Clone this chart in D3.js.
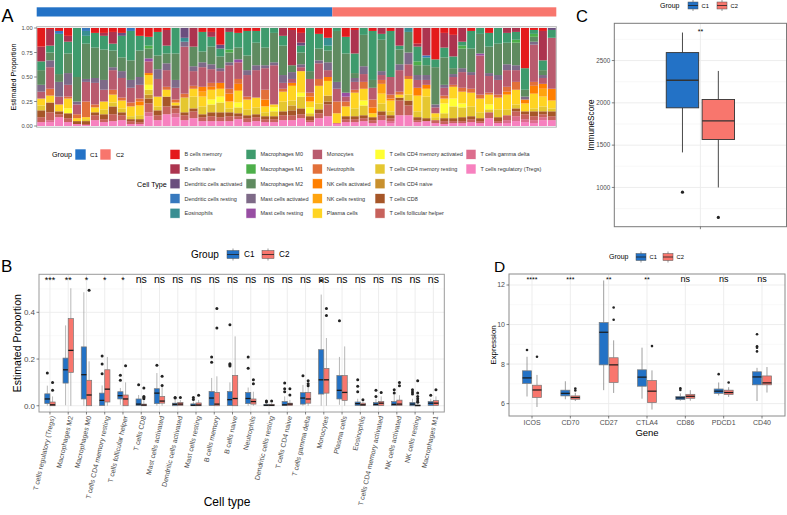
<!DOCTYPE html>
<html>
<head>
<meta charset="utf-8">
<script src="https://cdn.jsdelivr.net/npm/d3@7"></script>
<style>
  body { margin: 0; background: #fff; }
  svg { display: block; font-family: "Liberation Sans", Arial, sans-serif; }
</style>
</head>
<body>
<svg id="fig" width="787" height="515"></svg>
<script>
// ---------- shared ----------
const groups = ["C1", "C2"];
const groupColors = ["#2372C6", "#F8766D"];
const groupSizes = [33, 25];

// ---------- panel A: CIBERSORT fractions per sample (percent) ----------
const cellTypes = ["B cells memory", "B cells naive", "Dendritic cells activated", "Dendritic cells resting",
  "Eosinophils", "Macrophages M0", "Macrophages M1", "Macrophages M2", "Mast cells activated",
  "Mast cells resting", "Monocytes", "Neutrophils", "NK cells activated", "NK cells resting",
  "Plasma cells", "T cells CD4 memory activated", "T cells CD4 memory resting", "T cells CD4 naive",
  "T cells CD8", "T cells follicular helper", "T cells gamma delta", "T cells regulatory (Tregs)"];
const cellColors = ["#E41A1C", "#AC344F", "#6A4E7E", "#3779BE", "#388E92", "#3E9B6D", "#4DAF4A", "#5F8B60",
  "#7E6A88", "#984EA3", "#B95B6E", "#E2703A", "#FF7F00", "#FFA40F", "#FFD422", "#FFFF33", "#E5C730",
  "#C8902E", "#A65628", "#C7625C", "#DC6D8D", "#F781BF"];

const pBMemory = [19,1,3,8,0,0,5,5,4,5, 0,8,9,4,2,0,0,0,4,4, 17,0,5,3,3,0,0,0,2,5, 0,6,10,0,9,2,0,3,0,3, 0,0,16,0,32,5,7,0,3,0, 5,0,0,0,41,2,3,0];
const pBNaive = [15,17,0,6,0,0,0,3,12,0, 0,0,0,0,16,0,0,19,0,5, 0,4,0,0,0,0,0,8,36,10, 0,0,0,0,0,24,0,0,6,0, 18,0,3,28,0,15,22,14,0,0, 0,0,5,4,0,0,30,0];
const pDCAct = [0,0,0,0,0,0,0,0,0,3, 0,0,0,0,0,0,10,0,0,0, 4,0,0,0,0,0,0,0,0,3, 0,0,0,0,0,0,0,0,0,0, 0,0,0,0,0,0,0,0,0,0, 0,0,0,0,0,0,0,2];
const pDCRest = [0,0,3,0,0,3,0,0,0,0, 3,0,0,0,0,0,0,0,0,0, 0,0,0,0,0,0,0,0,0,0, 0,0,0,0,0,0,0,0,0,0, 0,0,0,2,0,0,0,0,0,0, 0,0,0,0,0,0,0,0];
const pEos = [0,0,0,0,0,5,0,0,0,0, 0,0,0,0,0,0,4,0,0,0, 0,0,0,0,0,0,0,0,0,0, 0,0,8,0,0,0,0,0,0,0, 0,4,0,0,0,0,0,0,0,0, 0,0,0,0,0,0,0,0];
const pM0 = [9,7,41,12,50,8,15,14,7,22, 30,15,9,24,8,26,0,0,20,10, 8,18,15,25,12,20,5,10,0,7, 44,15,5,3,17,20,7,50,6,47, 4,0,15,8,8,10,12,4,18,6, 14,16,10,8,22,4,10,8];
const pM1 = [0,0,0,0,0,0,0,0,0,0, 0,0,3,0,0,0,0,0,0,0, 0,3,0,0,0,0,0,0,0,0, 0,0,0,0,0,0,0,0,0,0, 0,0,4,0,0,0,0,3,0,0, 0,0,0,3,0,3,0,0];
const pM2 = [15,8,8,20,25,36,31,31,17,14, 20,27,10,14,10,27,0,20,11,18, 12,10,12,15,23,18,30,30,7,12, 8,12,12,52,40,5,32,8,32,0, 15,21,10,10,38,28,6,20,24,20, 27,32,22,23,7,5,5,0];
const pMastAct = [7,7,15,12,3,3,5,10,3,7, 8,8,0,10,7,8,5,5,5,5, 3,3,0,5,5,3,3,8,7,3, 0,3,8,7,0,4,8,0,4,0, 6,12,5,5,3,3,3,4,3,0, 3,5,6,5,3,3,3,0];
const pMastRest = [0,0,0,0,0,0,0,0,0,0, 0,0,3,0,0,0,0,0,0,0, 0,0,3,0,0,0,0,0,0,0, 0,0,0,0,4,0,0,0,0,0, 0,0,0,0,0,0,0,0,0,2, 0,0,0,0,0,0,0,0];
const pMono = [7,22,8,12,10,20,22,12,20,20, 15,14,12,18,17,12,48,15,20,14, 12,24,17,22,28,22,40,6,4,4, 14,16,7,13,5,8,8,12,5,18, 22,12,8,5,6,8,8,16,14,40, 17,15,17,12,0,38,6,52];
const pNeutro = [0,7,0,2,4,16,3,0,5,3, 4,3,0,0,3,3,4,3,0,4, 0,5,5,3,0,10,0,3,0,0, 4,7,0,12,5,3,7,8,4,4, 3,3,0,0,0,3,2,4,4,4, 2,3,5,8,0,4,0,0];
const pNKAct = [0,0,0,0,0,0,0,0,0,0, 0,4,2,0,0,0,0,0,5,3, 6,8,7,0,0,7,0,0,3,0, 5,0,4,0,0,0,0,6,0,2, 0,0,8,4,0,0,0,0,0,0, 0,0,3,0,4,8,5,12];
const pNKRest = [0,0,0,0,0,0,0,0,0,0, 0,0,0,0,0,0,0,0,5,0, 0,0,0,0,0,0,0,0,0,0, 0,0,0,0,0,0,0,0,10,0, 0,0,0,0,0,0,0,0,0,0, 0,0,0,0,0,0,8,0];
const pPlasma = [7,7,7,10,3,2,5,8,8,8, 10,10,10,10,7,3,0,8,10,10, 8,7,12,10,10,6,3,10,15,22, 6,18,15,10,10,16,12,4,10,11, 3,16,16,8,4,5,12,12,14,14, 10,12,15,15,8,15,10,8];
const pCD4Act = [0,0,0,5,0,0,0,0,0,0, 0,0,5,0,0,0,0,0,0,5, 6,0,5,0,0,0,4,0,0,4, 6,0,0,0,0,0,5,0,0,0, 0,0,0,0,0,10,8,4,0,0, 5,0,0,0,0,0,0,0];
const pCD4Rest = [5,0,0,0,0,2,0,5,4,4, 3,4,5,4,0,0,15,12,8,8, 10,4,6,6,7,4,5,10,5,12, 3,6,0,0,0,8,10,0,8,4, 0,6,6,22,3,5,12,10,10,6, 3,8,6,4,0,3,5,3];
const pCD4Naive = [0,0,0,0,0,0,0,0,0,0, 0,0,4,0,0,0,0,0,0,0, 0,0,0,0,0,0,0,0,5,0, 0,0,6,0,0,0,0,0,0,0, 0,0,0,0,0,0,0,0,0,0, 0,0,0,0,0,0,0,0];
const pCD8 = [7,10,3,5,3,3,3,5,8,3, 2,3,5,5,10,3,3,3,3,4, 5,4,3,3,3,3,3,4,5,6, 4,4,3,0,3,3,3,3,4,3, 3,5,3,3,0,3,3,4,3,3, 0,4,0,3,3,5,3,5];
const pTfh = [5,8,3,4,0,1,5,3,7,5, 3,2,9,5,8,5,5,7,4,5, 4,5,3,4,4,3,3,5,5,4, 2,5,12,0,3,3,3,3,5,3, 15,10,2,0,3,3,2,2,3,2, 6,2,5,5,5,4,3,4];
const pGammaDelta = [0,2,0,0,0,0,0,0,0,0, 0,0,4,0,0,4,0,0,0,0, 0,0,0,0,0,0,0,0,0,0, 0,0,0,1,0,0,0,0,0,2, 0,0,0,0,0,0,0,0,0,0, 0,0,3,5,3,3,3,0];
const pTregs = [4,4,9,4,2,1,6,4,5,6, 2,2,10,6,12,9,6,8,5,5, 5,5,7,4,5,4,4,6,6,8, 4,8,10,2,4,4,5,3,6,3, 11,11,4,5,3,2,3,3,4,3, 8,3,3,5,4,3,6,6];
const proportions = [pBMemory, pBNaive, pDCAct, pDCRest, pEos, pM0, pM1, pM2, pMastAct, pMastRest, pMono,
  pNeutro, pNKAct, pNKRest, pPlasma, pCD4Act, pCD4Rest, pCD4Naive, pCD8, pTfh, pGammaDelta, pTregs];
const propTicks = [0, 0.25, 0.5, 0.75, 1];

// ---------- panel B: per cell type boxplots [low whisker, Q1, median, Q3, high whisker] ----------
const cellTypesB = ["T cells regulatory (Tregs)", "Macrophages M2", "Macrophages M0", "T cells CD4 memory resting",
  "T cells follicular helper", "T cells CD8", "Mast cells activated", "Dendritic cells activated",
  "Mast cells resting", "B cells memory", "B cells naive", "Neutrophils", "Dendritic cells resting",
  "T cells CD4 naive", "T cells gamma delta", "Monocytes", "Plasma cells", "Eosinophils",
  "T cells CD4 memory activated", "NK cells activated", "NK cells resting", "Macrophages M1"];
const boxB_C1 = [[0,0.009,0.029,0.051,0.086],[0.002,0.097,0.154,0.204,0.344],[0,0.029,0.133,0.252,0.486],
  [0,0.001,0.023,0.054,0.087],[0.004,0.029,0.043,0.06,0.076],[0,0.001,0.007,0.029,0.046],
  [0,0.009,0.054,0.073,0.14],[0,0,0.006,0.011,0.025],[0,0,0.002,0.008,0.018],[0,0.001,0.033,0.061,0.119],
  [0,0.001,0.026,0.061,0.1],[0,0.009,0.031,0.057,0.078],[0,0,0.002,0.006,0.01],[0,0.001,0.004,0.018,0.04],
  [0,0.007,0.033,0.056,0.089],[0,0.05,0.111,0.24,0.476],[0.004,0.029,0.066,0.129,0.209],[0,0.001,0.009,0.016,0.03],
  [0,0.001,0.006,0.014,0.03],[0,0.001,0.006,0.018,0.047],[0,0,0.007,0.014,0.03],[0,0.001,0.011,0.018,0.03]];
const outB_C1 = [[0.14],[],[],[0.213,0.179,0.137],[0.131,0.109],[0.09],[0.173],[0.035,0.033],[0.035,0.027],
  [0.209,0.186],[0.347,0.18,0.175,0.17],[0.209,0.16],[0.02,0.016],[0.097,0.073,0.06],[0.128],[0.536],[0.364],
  [0.111,0.083,0.06],[0.066,0.04],[0.069,0.055],[0.069,0.059,0.05],[0.045]];
const boxB_C2 = [[0,0,0.004,0.016,0.04],[0,0.143,0.237,0.373,0.503],[0,0,0.046,0.109,0.19],
  [0,0.016,0.071,0.154,0.209],[0,0,0.029,0.046,0.1],[0,0,0.003,0.007,0.02],
  [0,0.011,0.02,0.04,0.083],[0,0.001,0.007,0.014,0.025],[0,0,0.003,0.012,0.025],[0,0,0.007,0.057,0.126],
  [0,0,0.031,0.13,0.297],[0,0.007,0.018,0.029,0.06],[0,0,0.002,0.006,0.012],[0,0.001,0.007,0.011,0.025],
  [0,0.011,0.029,0.057,0.08],[0,0.054,0.111,0.16,0.29],[0,0.023,0.057,0.129,0.254],[0,0.001,0.004,0.011,0.018],
  [0,0.001,0.011,0.018,0.04],[0,0.001,0.007,0.024,0.045],[0,0,0.001,0.003,0.006],[0,0.001,0.011,0.022,0.04]];
const outB_C2 = [[0.066,0.1],[],[0.494],[],[0.171],[0.076,0.04,0.035,0.03],[0.126,0.087],[0.035],[0.045],
  [0.416,0.333],[],[0.111,0.094],[0.02],[0.073,0.046],[0.107,0.094,0.086],[0.416,0.386],[],[0.026],[0.057],
  [0.1,0.086],[0.107,0.055,0.04,0.03,0.02,0.015],[0.069]];
const sigB = ["***","**","*","*","*","ns","ns","ns","ns","ns","ns","ns","ns","ns","ns","ns","ns","ns","ns","ns","ns","ns"];
const ticksB = [0, 0.2, 0.4];

// ---------- panel C: ImmuneScore ----------
const immuneC1 = [1414, 1941, 2267, 2594, 2831];
const immuneOutC1 = [944];
const immuneC2 = [1000, 1567, 1787, 2040, 2377];
const immuneOutC2 = [645];
const sigC = "**";
const ticksC = [1000, 1500, 2000, 2500];

// ---------- panel D: checkpoint gene expression ----------
const genes = ["ICOS", "CD70", "CD27", "CTLA4", "CD86", "PDCD1", "CD40"];
const boxD_C1 = [[6.36,7.02,7.30,7.66,8.37],[6.22,6.39,6.52,6.68,7.13],[6.68,7.96,9.61,10.10,12.23],
  [6.25,6.88,7.34,7.71,8.83],[6.15,6.20,6.29,6.36,6.52],[6.41,6.52,6.63,6.74,7.07],[6.13,6.95,7.35,7.61,7.81]];
const outD_C1 = [[8.71],[],[],[],[6.78,6.69],[7.49],[9.51,8.90,8.83,8.64]];
const boxD_C2 = [[5.83,6.31,6.69,6.93,7.45],[6.13,6.22,6.31,6.39,6.55],[6.54,7.07,7.96,8.32,9.20],
  [5.70,6.05,6.63,7.17,7.68],[6.15,6.27,6.37,6.47,6.68],[6.34,6.46,6.56,6.68,6.83],[6.56,6.95,7.05,7.40,7.85]];
const outD_C2 = [[8.37],[6.76,6.66],[10.86,10.24],[8.91],[],[7.07],[]];
const sigD = ["****","***","**","**","ns","ns","ns"];
const ticksD = [6, 8, 10, 12];

// ================================================================
const svg = d3.select("#fig");
const tickCol = "#4D4D4D";
const gridMajor = "#EBEBEB";
const gridMinor = "#F4F4F4";

// expand a numeric extent by 5% each side, like ggplot
function expanded(values) {
  const [lo, hi] = d3.extent(values);
  const pad = (hi - lo) * 0.05;
  return [lo - pad, hi + pad];
}

function panelLabel(x, y, text, size) {
  svg.append("text").attr("x", x).attr("y", y).attr("font-size", size).text(text);
}

function yAxis(g, scale, ticks, x0, fmt, size) {
  g.selectAll(".ytick").data(ticks).join("g").attr("class", "ytick")
    .each(function(t) {
      const s = d3.select(this);
      s.append("line").attr("x1", x0 - 2.5).attr("x2", x0).attr("y1", scale(t)).attr("y2", scale(t))
        .attr("stroke", "#333").attr("stroke-width", 0.6);
      s.append("text").attr("x", x0 - 4).attr("y", scale(t)).attr("dy", "0.35em")
        .attr("text-anchor", "end").attr("font-size", size).attr("fill", tickCol).text(fmt(t));
    });
}

function grid(g, yScale, major, minor, xs, box) {
  g.selectAll(".gminor").data(minor.filter(v => yScale(v) > box.y0 && yScale(v) < box.y1)).join("line")
    .attr("x1", box.x0).attr("x2", box.x1).attr("y1", d => yScale(d)).attr("y2", d => yScale(d))
    .attr("stroke", gridMinor).attr("stroke-width", 0.6);
  g.selectAll(".gmajor").data(major).join("line")
    .attr("x1", box.x0).attr("x2", box.x1).attr("y1", d => yScale(d)).attr("y2", d => yScale(d))
    .attr("stroke", gridMajor).attr("stroke-width", 0.9);
  g.selectAll(".gvert").data(xs).join("line")
    .attr("x1", d => d).attr("x2", d => d).attr("y1", box.y0).attr("y2", box.y1)
    .attr("stroke", gridMajor).attr("stroke-width", 0.9);
}

function frame(g, box, color) {
  g.append("rect").attr("x", box.x0).attr("y", box.y0)
    .attr("width", box.x1 - box.x0).attr("height", box.y1 - box.y0)
    .attr("fill", "none").attr("stroke", color).attr("stroke-width", 1);
}

// boxes: [{cx, stats, out, color}]
function drawBoxes(g, boxes, yScale, opt) {
  const b = g.selectAll(".box").data(boxes).join("g").attr("class", "box");
  b.append("line").attr("x1", d => d.cx).attr("x2", d => d.cx)
    .attr("y1", d => yScale(d.stats[4])).attr("y2", d => yScale(d.stats[3]))
    .attr("stroke", opt.whisker).attr("stroke-width", opt.lw);
  b.append("line").attr("x1", d => d.cx).attr("x2", d => d.cx)
    .attr("y1", d => yScale(d.stats[1])).attr("y2", d => yScale(d.stats[0]))
    .attr("stroke", opt.whisker).attr("stroke-width", opt.lw);
  b.append("rect").attr("x", d => d.cx - opt.w / 2).attr("width", opt.w)
    .attr("y", d => yScale(d.stats[3]))
    .attr("height", d => Math.max(0.8, yScale(d.stats[1]) - yScale(d.stats[3])))
    .attr("fill", d => d.color).attr("stroke", opt.outline).attr("stroke-width", opt.lw);
  b.append("line").attr("x1", d => d.cx - opt.w / 2).attr("x2", d => d.cx + opt.w / 2)
    .attr("y1", d => yScale(d.stats[2])).attr("y2", d => yScale(d.stats[2]))
    .attr("stroke", opt.median).attr("stroke-width", opt.mw);
  b.selectAll("circle").data(d => d.out.map(v => ({cx: d.cx, v}))).join("circle")
    .attr("cx", d => d.cx).attr("cy", d => yScale(d.v)).attr("r", opt.r).attr("fill", "#222");
}

// boxplot-glyph legend for Group
function groupLegend(x, y, size, keyXs, keyW, keyH) {
  const g = svg.append("g");
  g.append("text").attr("x", x).attr("y", y).attr("dy", "0.35em").attr("font-size", size).text("Group");
  groups.forEach((grp, i) => {
    const cx = keyXs[i];
    g.append("line").attr("x1", cx + keyW / 2).attr("x2", cx + keyW / 2)
      .attr("y1", y - keyH / 2 - 2).attr("y2", y + keyH / 2 + 2).attr("stroke", "#555").attr("stroke-width", 0.6);
    g.append("rect").attr("x", cx).attr("y", y - keyH / 2).attr("width", keyW).attr("height", keyH)
      .attr("fill", groupColors[i]).attr("stroke", "#555").attr("stroke-width", 0.5);
    g.append("line").attr("x1", cx).attr("x2", cx + keyW).attr("y1", y).attr("y2", y)
      .attr("stroke", "#222").attr("stroke-width", 0.8);
    g.append("text").attr("x", cx + keyW + size * 0.5).attr("y", y).attr("dy", "0.35em")
      .attr("font-size", size * 0.82).text(grp);
  });
}

// ================= Panel A =================
(function panelA() {
  const box = {x0: 36.7, x1: 556.3, y0: 26.7, y1: 127.2};
  const g = svg.append("g");
  const samples = pBMemory.map((_, i) => i);
  const sampleGroup = samples.map(i => i < groupSizes[0] ? "C1" : "C2");
  const rows = samples.map(i => {
    const r = {sample: i};
    cellTypes.forEach((c, k) => { r[c] = proportions[k][i]; });
    return r;
  });
  const series = d3.stack().keys(cellTypes.slice().reverse()).offset(d3.stackOffsetExpand)(rows);
  const color = d3.scaleOrdinal(cellTypes, cellColors);
  const x = d3.scaleBand().domain(samples).range([box.x0, box.x1]).paddingInner(0.1).paddingOuter(0.05);
  const y = d3.scaleLinear().domain([0, 1]).range([126, 28]);

  g.selectAll(".layer").data(series).join("g").attr("class", "layer").attr("fill", d => color(d.key))
    .selectAll("rect").data(d => d).join("rect")
    .attr("x", d => x(d.data.sample)).attr("width", x.bandwidth())
    .attr("y", d => y(d[1])).attr("height", d => y(d[0]) - y(d[1]));
  frame(g, box, "#B5B5B5");
  yAxis(g, y, propTicks, box.x0, d3.format(".2f"), 5.8);
  g.append("text").attr("transform", `translate(16,${(box.y0 + box.y1) / 2}) rotate(-90)`)
    .attr("text-anchor", "middle").attr("font-size", 7.2).text("Estimated Proportion");

  // group annotation bar
  const step = x.step();
  groups.forEach((grp, i) => {
    const idx = samples.filter(s => sampleGroup[s] === grp);
    const x0 = i === 0 ? box.x0 : x(idx[0]) - (step - x.bandwidth()) / 2;
    const x1 = i === groups.length - 1 ? box.x1 : x(idx[idx.length - 1]) + x.bandwidth() + (step - x.bandwidth()) / 2;
    g.append("rect").attr("x", x0).attr("y", 7.3).attr("width", x1 - x0).attr("height", 9.2)
      .attr("fill", groupColors[i]);
  });

  // legends
  const lg = svg.append("g").attr("font-size", 7.2);
  lg.append("text").attr("x", 52).attr("y", 154.5).attr("dy", "0.35em").text("Group");
  groups.forEach((grp, i) => {
    lg.append("rect").attr("x", 75 + i * 25).attr("y", 149).attr("width", 11).attr("height", 11)
      .attr("fill", groupColors[i]).attr("stroke", "#fff").attr("stroke-width", 0.6);
    lg.append("text").attr("x", 90 + i * 26).attr("y", 154.5).attr("dy", "0.35em").attr("font-size", 6.2).text(grp);
  });
  lg.append("text").attr("x", 137).attr("y", 184).attr("dy", "0.35em").text("Cell Type");
  const colX = [170, 246, 312.3, 375, 466];
  const rowY = [154.3, 169, 183.8, 198.6, 213.2];
  cellTypes.forEach((c, k) => {
    const cx = colX[Math.floor(k / 5)], cy = rowY[k % 5];
    lg.append("rect").attr("x", cx).attr("y", cy - 5).attr("width", 10).attr("height", 10)
      .attr("fill", cellColors[k]).attr("stroke", "#fff").attr("stroke-width", 0.6);
    lg.append("text").attr("x", cx + 14.5).attr("y", cy).attr("dy", "0.35em")
      .attr("font-size", 5.5).attr("fill", "#333").text(c);
  });
  panelLabel(1.5, 21.5, "A", 18);
})();

// ================= Panel B =================
(function panelB() {
  const box = {x0: 39, x1: 444.3, y0: 274.3, y1: 412};
  const g = svg.append("g");
  const all = [...boxB_C1.flat(), ...boxB_C2.flat(), ...outB_C1.flat(), ...outB_C2.flat()];
  const y = d3.scaleLinear().domain(expanded(all)).range([box.y1, box.y0]);
  const x = d3.scalePoint().domain(cellTypesB).range([box.x0, box.x1]).padding(0.6);
  const unit = x.step();
  grid(g, y, ticksB, [0.1, 0.3, 0.5], cellTypesB.map(c => x(c)), box);

  const boxes = [];
  cellTypesB.forEach((c, i) => {
    boxes.push({cx: x(c) - unit * 0.143, stats: boxB_C1[i], out: outB_C1[i], color: groupColors[0]});
    boxes.push({cx: x(c) + unit * 0.143, stats: boxB_C2[i], out: outB_C2[i], color: groupColors[1]});
  });
  drawBoxes(g, boxes, y, {w: unit * 0.285, lw: 0.7, whisker: "#999", outline: "#777", median: "#1a1a1a", mw: 1.3, r: 1.5});
  frame(g, box, "#9A9A9A");

  const maxY = d3.max(all);
  g.selectAll(".sig").data(cellTypesB).join("text").attr("class", "sig")
    .attr("x", d => x(d)).attr("y", y(maxY) + 2).attr("text-anchor", "middle")
    .attr("font-size", (d, i) => sigB[i] === "ns" ? 10.5 : 9).text((d, i) => sigB[i]);

  yAxis(g, y, ticksB, box.x0, d3.format(".1f"), 8);
  g.selectAll(".xtick").data(cellTypesB).join("line").attr("class", "xtick")
    .attr("x1", d => x(d)).attr("x2", d => x(d)).attr("y1", box.y1).attr("y2", box.y1 + 2.5)
    .attr("stroke", "#333").attr("stroke-width", 0.6);
  g.selectAll(".xlab").data(cellTypesB).join("text").attr("class", "xlab")
    .attr("transform", d => `translate(${x(d)},${box.y1 + 3.5}) rotate(-77)`)
    .attr("text-anchor", "end").attr("dy", "0.72em").attr("font-size", 6.9).attr("fill", tickCol).text(d => d);
  g.append("text").attr("transform", `translate(21,${(box.y0 + box.y1) / 2}) rotate(-90)`)
    .attr("text-anchor", "middle").attr("font-size", 10.5).text("Estimated Proportion");
  g.append("text").attr("x", 227).attr("y", 506).attr("text-anchor", "middle").attr("font-size", 12).text("Cell type");
  groupLegend(191, 254.5, 10, [227, 262], 12, 8);
  panelLabel(1, 272, "B", 17);
})();

// ================= Panel C =================
(function panelC() {
  const box = {x0: 614.3, x1: 786.5, y0: 23.3, y1: 226.7};
  const g = svg.append("g");
  const all = [...immuneC1, ...immuneC2, ...immuneOutC1, ...immuneOutC2];
  const y = d3.scaleLinear().domain(expanded(all)).range([box.y1, box.y0]);
  const x = d3.scalePoint().domain([""]).range([box.x0, box.x1]).padding(0.6);
  const unit = (box.x1 - box.x0) / 1.2;
  grid(g, y, ticksC, [750, 1250, 1750, 2250, 2750], [x("")], box);
  drawBoxes(g, [
    {cx: x("") - unit * 0.125, stats: immuneC1, out: immuneOutC1, color: groupColors[0]},
    {cx: x("") + unit * 0.125, stats: immuneC2, out: immuneOutC2, color: groupColors[1]}
  ], y, {w: unit * 0.226, lw: 0.9, whisker: "#333", outline: "#333", median: "#333", mw: 1.4, r: 1.6});
  frame(g, box, "#7A7A7A");
  g.append("text").attr("x", x("")).attr("y", y(d3.max(all)) + 1).attr("text-anchor", "middle")
    .attr("font-size", 7).text(sigC);
  yAxis(g, y, ticksC, box.x0, d3.format("d"), 6.3);
  g.append("line").attr("x1", x("")).attr("x2", x("")).attr("y1", box.y1).attr("y2", box.y1 + 2.5)
    .attr("stroke", "#333").attr("stroke-width", 0.6);
  g.append("text").attr("transform", `translate(593.5,${(box.y0 + box.y1) / 2}) rotate(-90)`)
    .attr("text-anchor", "middle").attr("font-size", 8.2).text("ImmuneScore");
  groupLegend(660, 5.5, 7, [688, 717], 10, 7);
  panelLabel(576, 22, "C", 16.5);
})();

// ================= Panel D =================
(function panelD() {
  const box = {x0: 509, x1: 785, y0: 274, y1: 416};
  const g = svg.append("g");
  const all = [...boxD_C1.flat(), ...boxD_C2.flat(), ...outD_C1.flat(), ...outD_C2.flat()];
  const y = d3.scaleLinear().domain(expanded(all)).range([box.y1, box.y0]);
  const x = d3.scalePoint().domain(genes).range([box.x0, box.x1]).padding(0.6);
  const unit = x.step();
  grid(g, y, ticksD, [7, 9, 11], genes.map(d => x(d)), box);
  const boxes = [];
  genes.forEach((gene, i) => {
    boxes.push({cx: x(gene) - unit * 0.13, stats: boxD_C1[i], out: outD_C1[i], color: groupColors[0]});
    boxes.push({cx: x(gene) + unit * 0.13, stats: boxD_C2[i], out: outD_C2[i], color: groupColors[1]});
  });
  drawBoxes(g, boxes, y, {w: unit * 0.235, lw: 0.7, whisker: "#777", outline: "#777", median: "#1a1a1a", mw: 1.2, r: 1.3});
  frame(g, box, "#8A8A8A");
  const maxY = d3.max(all);
  g.selectAll(".sig").data(genes).join("text").attr("class", "sig")
    .attr("x", d => x(d)).attr("y", y(maxY) + 1.5).attr("text-anchor", "middle")
    .attr("font-size", (d, i) => sigD[i] === "ns" ? 9 : 7).text((d, i) => sigD[i]);
  yAxis(g, y, ticksD, box.x0, d3.format("d"), 7);
  g.selectAll(".xtick").data(genes).join("line").attr("class", "xtick")
    .attr("x1", d => x(d)).attr("x2", d => x(d)).attr("y1", box.y1).attr("y2", box.y1 + 2.5)
    .attr("stroke", "#333").attr("stroke-width", 0.6);
  g.selectAll(".xlab").data(genes).join("text").attr("class", "xlab")
    .attr("x", d => x(d)).attr("y", box.y1 + 3.5).attr("dy", "0.75em").attr("text-anchor", "middle")
    .attr("font-size", 7).attr("fill", tickCol).text(d => d);
  g.append("text").attr("x", (box.x0 + box.x1) / 2).attr("y", 436).attr("text-anchor", "middle")
    .attr("font-size", 9.5).text("Gene");
  g.append("text").attr("transform", `translate(495.5,${(box.y0 + box.y1) / 2}) rotate(-90)`)
    .attr("text-anchor", "middle").attr("font-size", 8).text("Expression");
  groupLegend(609, 257, 7, [636, 663], 10, 7);
  panelLabel(494, 272, "D", 15.5);
})();
</script>
</body>
</html>
